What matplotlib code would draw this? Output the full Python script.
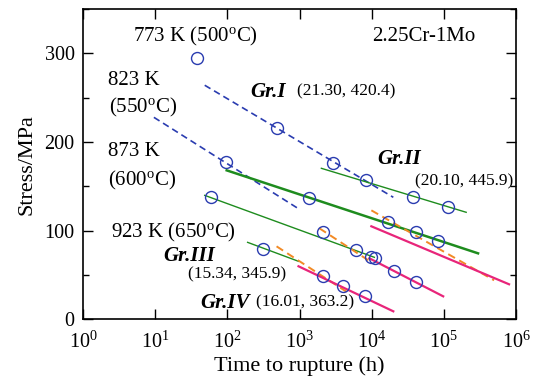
import matplotlib
matplotlib.use("Agg")
import matplotlib.pyplot as plt
from matplotlib.ticker import MultipleLocator, FixedLocator, FixedFormatter

plt.rcParams['font.family'] = ['Liberation Serif', 'DejaVu Serif']
plt.rcParams['mathtext.fontset'] = 'custom'
plt.rcParams['mathtext.rm'] = 'Liberation Serif'
plt.rcParams['mathtext.it'] = 'Liberation Serif:italic'
plt.rcParams['mathtext.bf'] = 'Liberation Serif:bold'

# measured rupture data (time in h, stress in MPa)
t_773 = [38]
s_773 = [294.7]
t_823 = [488, 2910, 8340, 36800, 112500]
s_823 = [215.7, 176.3, 157.0, 137.4, 127.2]
t_873 = [95.8, 1353, 17000, 41100, 84300]
s_873 = [177.4, 136.8, 109.2, 98.5, 88.6]
t_923 = [59.4, 2096, 6060, 9940, 11100, 20100, 41100]
s_923 = [137.6, 98.1, 78.7, 69.9, 69.7, 54.5, 42.1]
t_973 = [315, 2096, 3960, 8000]
s_973 = [78.9, 49.2, 37.6, 26.6]

# fitted lines: (t_start, t_end), (s_start, s_end)
blue_1_t, blue_1_s = [48.6, 19950], [264, 137.6]
blue_2_t, blue_2_s = [9.6, 1000], [227.8, 124]
green_thick_t, green_thick_s = [98, 298000], [168, 74.4]
green_top_t, green_top_s = [2010, 204000], [170.3, 120.7]
green_mid_t, green_mid_s = [48.6, 10900], [139.8, 69.9]
green_low_t, green_low_s = [191, 969], [86.8, 65.4]
pink_top_t, pink_top_s = [9900, 801000], [104.9, 39.5]
pink_mid_t, pink_mid_s = [9300, 98000], [68.8, 25.9]
pink_low_t, pink_low_s = [969, 19950], [59.8, 9.0]
orange_top_t, orange_top_s = [9900, 497000], [122.9, 44]
orange_mid_t, orange_mid_s = [1890, 9900], [102.6, 64.3]
orange_low_t, orange_low_s = [481, 4610], [82.3, 30.4]

fig = plt.figure(figsize=(5.42, 3.83), dpi=100)
ax = fig.add_axes([83 / 542, 1 - 319.3 / 383, 433 / 542, 310.3 / 383])

blue = '#2a3cb0'
green = '#1e8c1e'
pink = '#e8257a'
orange = '#f28a25'

ax.plot(blue_1_t, blue_1_s, color=blue, lw=1.2, ls=(0, (4, 2.5)))
ax.plot(blue_2_t, blue_2_s, color=blue, lw=1.2, ls=(0, (4, 2.5)))
ax.plot(green_thick_t, green_thick_s, color=green, lw=1.8)
ax.plot(green_top_t, green_top_s, color=green, lw=1.0)
ax.plot(green_mid_t, green_mid_s, color=green, lw=1.0)
ax.plot(green_low_t, green_low_s, color=green, lw=1.0)
ax.plot(orange_top_t, orange_top_s, color=orange, lw=1.4, ls=(0, (4, 2.5)))
ax.plot(orange_mid_t, orange_mid_s, color=orange, lw=1.4, ls=(0, (4, 2.5)))
ax.plot(orange_low_t, orange_low_s, color=orange, lw=1.4, ls=(0, (4, 2.5)))
ax.plot(pink_top_t, pink_top_s, color=pink, lw=1.6)
ax.plot(pink_mid_t, pink_mid_s, color=pink, lw=1.6)
ax.plot(pink_low_t, pink_low_s, color=pink, lw=1.6)

for tt, ss in [(t_773, s_773), (t_823, s_823), (t_873, s_873), (t_923, s_923), (t_973, s_973)]:
    ax.plot(tt, ss, 'o', ms=8.6, mfc='none', mec=blue, mew=1.0)

ax.set_xscale('log')
ax.set_xlim(1, 1e6)
ax.set_ylim(0, 350)

ax.xaxis.set_major_locator(FixedLocator([10 ** k for k in range(7)]))
ax.xaxis.set_major_formatter(FixedFormatter([r'$10^{%d}$' % k for k in range(7)]))
ax.xaxis.set_minor_locator(FixedLocator([]))
ax.yaxis.set_major_locator(MultipleLocator(100))
ax.yaxis.set_minor_locator(MultipleLocator(50))

ax.tick_params(which='both', direction='in', top=True, right=True, width=1.0)
ax.tick_params(which='major', length=7, labelsize=14.5)
ax.tick_params(which='minor', length=4)
ax.tick_params(axis='x', which='major', pad=9)
ax.tick_params(axis='y', which='major', pad=6)
for sp in ax.spines.values():
    sp.set_linewidth(1.2)

ax.set_xlabel('Time to rupture (h)', fontsize=16, labelpad=2)
ax.set_ylabel('Stress/MPa', fontsize=16, labelpad=6)

fs = 15
ax.text(4.93, 318.7, r'773 K (500$^{\rm o}$C)', fontsize=fs, va='center')
ax.text(10000, 318.7, '2.25Cr-1Mo', fontsize=fs, va='center')
ax.text(2.24, 269, '823 K', fontsize=fs, va='center')
ax.text(2.3, 238.9, r'(550$^{\rm o}$C)', fontsize=fs, va='center')
ax.text(2.24, 189, '873 K', fontsize=fs, va='center')
ax.text(2.24, 156.2, r'(600$^{\rm o}$C)', fontsize=fs, va='center')
ax.text(2.45, 97.9, r'923 K (650$^{\rm o}$C)', fontsize=fs, va='center')

gfs = 15
pfs = 12.5
ax.text(10 ** ((250 - 83) / 72.17), 256.7, 'Gr.I', fontsize=gfs, weight='bold', style='italic', va='center')
ax.text(10 ** ((296.7 - 83) / 72.17), 257.5, '(21.30, 420.4)', fontsize=pfs, va='center')
ax.text(10 ** ((377.3 - 83) / 72.17), 181, 'Gr.II', fontsize=gfs, weight='bold', style='italic', va='center')
ax.text(10 ** ((415 - 83) / 72.17), 156, '(20.10, 445.9)', fontsize=pfs, va='center')
ax.text(10 ** ((163.3 - 83) / 72.17), 71.7, 'Gr.III', fontsize=gfs, weight='bold', style='italic', va='center')
ax.text(10 ** ((188.3 - 83) / 72.17), 50.5, '(15.34, 345.9)', fontsize=pfs, va='center')
ax.text(10 ** ((200 - 83) / 72.17), 18.7, 'Gr.IV', fontsize=gfs, weight='bold', style='italic', va='center')
ax.text(10 ** ((256 - 83) / 72.17), 18.7, '(16.01, 363.2)', fontsize=pfs, va='center')

fig.savefig('out.png', dpi=100)
